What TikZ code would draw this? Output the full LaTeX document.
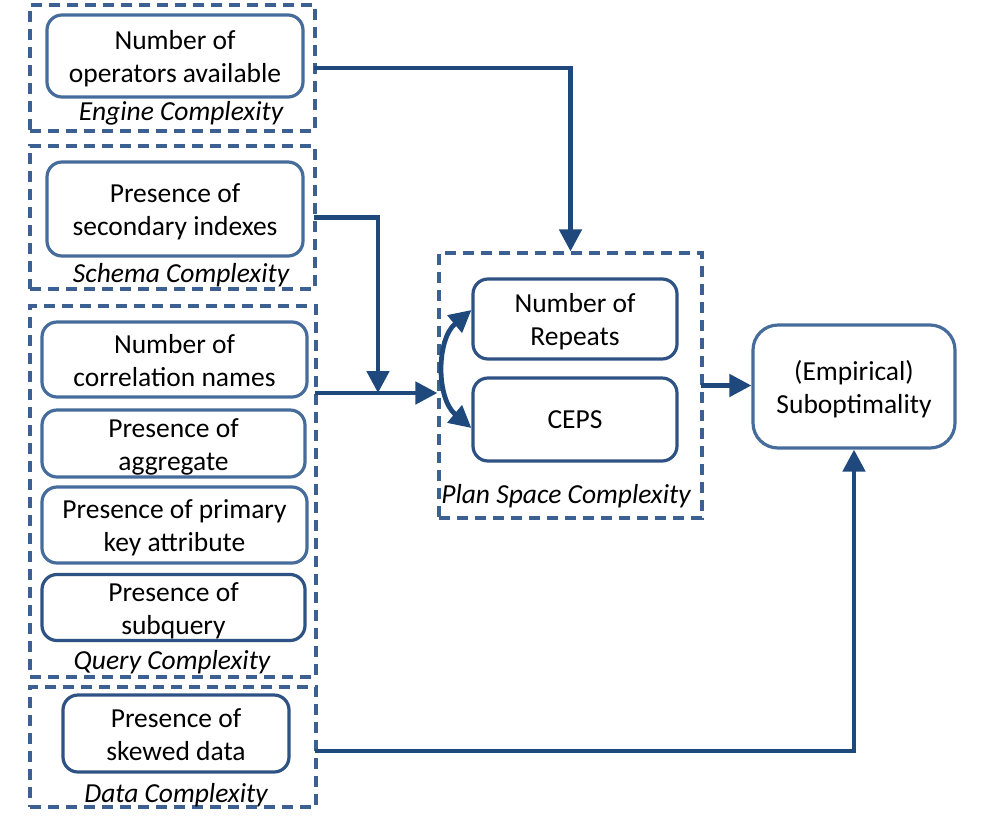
\documentclass[tikz,border=0pt]{standalone}
\usepackage{fontspec}
\setmainfont{Carlito}
\usetikzlibrary{arrows.meta,positioning}
\definecolor{boxA}{RGB}{70,108,155}
\definecolor{boxB}{RGB}{46,82,131}
\definecolor{dashc}{RGB}{60,96,146}
\definecolor{connc}{RGB}{31,73,125}
\newcommand\mytx[1]{\raisebox{-3.5pt}[\height][\depth]{\begin{tabular}{@{}c@{}}#1\end{tabular}}}
\tikzset{
  grp/.style={draw=dashc, line width=3.2pt, dash pattern=on 11pt off 7pt, inner sep=0pt},
  fbox/.style={draw=boxA, line width=3.2pt, rounded corners=15pt, align=center, inner sep=0pt,
    font=\fontsize{27.5}{33}\selectfont},
  fboxd/.style={fbox, draw=boxB},
  glabel/.style={font=\fontsize{27.5}{33}\selectfont\itshape, inner sep=0pt},
  conn/.style={draw=connc, line width=4.8pt, line cap=rect,
    -{Triangle[length=22pt,width=22pt]}},
  conn2/.style={draw=connc, line width=4.8pt,
    {Triangle[length=22pt,width=22pt]}-{Triangle[length=22pt,width=22pt]}},
}
\begin{document}
\begin{tikzpicture}[x=1pt,y=-1pt]
\useasboundingbox (0,0) rectangle (982,828);
% groups
\node[grp, minimum width=285pt, minimum height=126pt] (eng) at (172.5,68) {};
\node[grp, minimum width=285pt, minimum height=143pt] (sch) at (172.5,217.5) {};
\node[grp, minimum width=286pt, minimum height=371pt] (qry) at (173,491.5) {};
\node[grp, minimum width=286pt, minimum height=120pt] (dat) at (173,747) {};
\node[grp, minimum width=263pt, minimum height=265pt] (plan) at (570.5,385.5) {};
% boxes
\node[fbox, minimum width=256pt, minimum height=82pt] (ops) at (175,56) {\mytx{Number of\\operators available}};
\node[fbox, minimum width=256pt, minimum height=94pt] (sec) at (175,209) {\mytx{Presence of\\secondary indexes}};
\node[fbox, minimum width=265pt, minimum height=75pt] (corr) at (174.5,359.5) {\mytx{Number of\\correlation names}};
\node[fbox, minimum width=263pt, minimum height=67pt] (agg) at (173.5,443.5) {\mytx{Presence of\\aggregate}};
\node[fbox, minimum width=265pt, minimum height=76pt] (pk) at (174.5,525) {\mytx{Presence of primary\\key attribute}};
\node[fboxd, minimum width=263pt, minimum height=65pt] (subq) at (173.5,607.5) {\mytx{Presence of\\subquery}};
\node[fboxd, minimum width=226pt, minimum height=77pt] (skew) at (176,733.5) {\mytx{Presence of\\skewed data}};
\node[fboxd, minimum width=204pt, minimum height=80pt] (rep) at (575,319) {\mytx{Number of\\Repeats}};
\node[fboxd, minimum width=204pt, minimum height=83pt] (ceps) at (575,419.5) {CEPS};
\node[fbox, rounded corners=25pt, minimum width=202pt, minimum height=123pt] (sub) at (854,386.5) {\mytx{(Empirical)\\Suboptimality}};
% labels
\node[glabel] (engl) at (181,113) {Engine Complexity};
\node[glabel] (schl) at (181,275) {Schema Complexity};
\node[glabel] (qryl) at (172,662) {Query Complexity};
\node[glabel] (datl) at (176,795) {Data Complexity};
\node[glabel] (planl) at (566,496) {Plan Space Complexity};
% connectors
\coordinate (j) at (378,393);
\coordinate (qout) at (qry.east |- j);
\draw[conn] (eng.east) -| (plan.north);
\draw[conn] (sch.east) -| (j);
\draw[conn] (qout) -- (plan.west |- qout);
\draw[conn] (plan.east) -- (sub.west |- plan.east);
\draw[conn] ([yshift=-4pt]dat.east) -| (sub.south);
\draw[conn2] ([yshift=9pt]rep.west) to[bend right=50] ([yshift=-8.5pt]ceps.west);
\end{tikzpicture}
\end{document}
